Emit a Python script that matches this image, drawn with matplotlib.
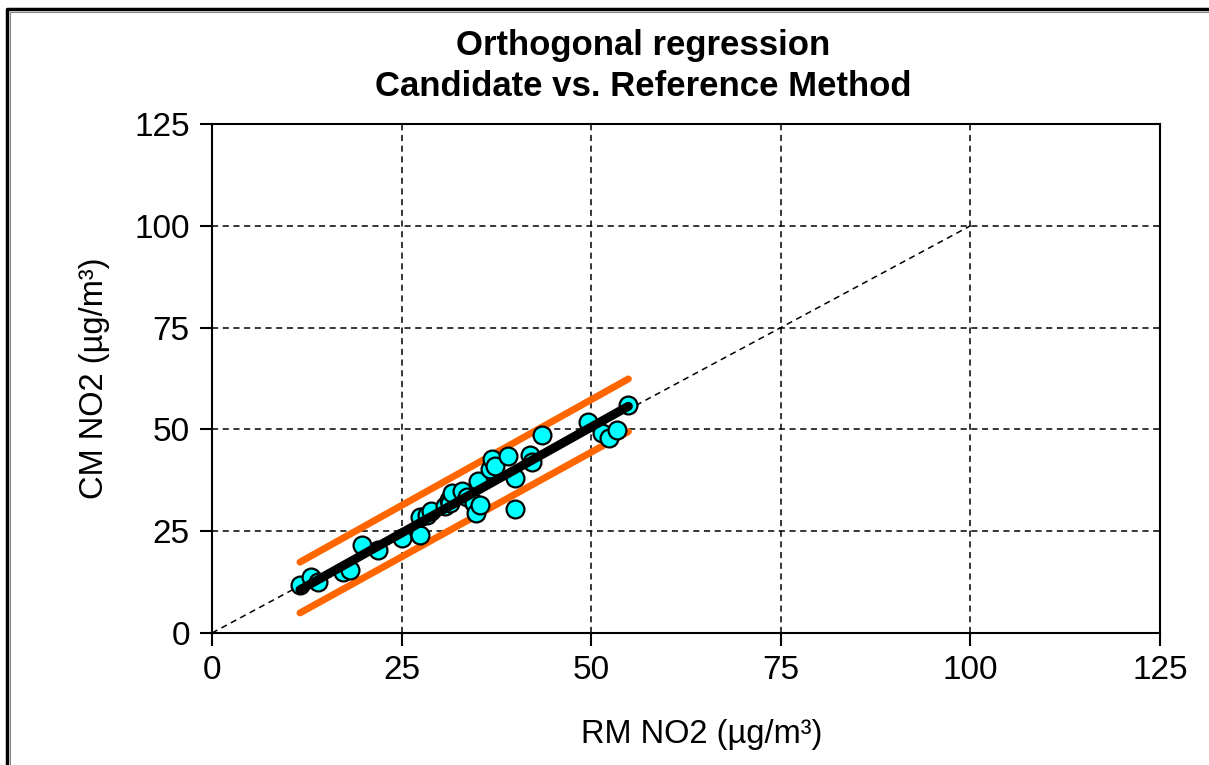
import numpy as np
import matplotlib.pyplot as plt
from matplotlib.lines import Line2D

plt.rcParams["font.family"] = ["Liberation Sans", "DejaVu Sans"]

# Paired NO2 measurements (µg/m³): reference method vs candidate method
rm_no2 = [11.6, 13.0, 14.0, 17.3, 18.2, 19.8, 21.9, 25.0, 27.4, 27.4,
          28.3, 28.9, 30.7, 31.3, 31.4, 31.6, 33.0, 33.6, 34.5, 34.8,
          35.4, 35.1, 36.6, 36.9, 37.3, 39.0, 39.9, 39.9, 41.9, 42.2,
          43.5, 49.6, 51.4, 52.3, 53.4, 54.9]
cm_no2 = [11.8, 13.7, 12.5, 15.0, 15.5, 21.6, 20.4, 23.3, 24.1, 28.5,
          29.0, 30.0, 31.2, 32.7, 31.9, 34.4, 34.9, 33.4, 32.0, 29.5,
          31.4, 37.3, 40.3, 42.7, 41.0, 43.5, 38.1, 30.5, 43.7, 42.0,
          48.6, 51.8, 49.1, 48.0, 49.9, 56.0]

# Upper / lower band lines (intercept, slope)
band_upper = (5.35, 1.039)
band_lower = (-7.0, 1.028)

ticks = [0, 25, 50, 75, 100, 125]

x = np.array(rm_no2)
y = np.array(cm_no2)

# orthogonal (Deming, lambda = 1) regression
sxx = np.var(x)
syy = np.var(y)
sxy = np.mean((x - x.mean()) * (y - y.mean()))
slope = (syy - sxx + np.sqrt((syy - sxx) ** 2 + 4 * sxy ** 2)) / (2 * sxy)
intercept = y.mean() - slope * x.mean()
xr = np.array([x.min(), x.max()])

fig = plt.figure(figsize=(12.09, 7.65), dpi=100)
ax = fig.add_axes([212 / 1209, 1 - 633 / 765, 948 / 1209, 509 / 765])

ax.set_xlim(0, 125)
ax.set_ylim(0, 125)
ax.set_xticks(ticks)
ax.set_yticks(ticks)
ax.grid(True, color="black", linestyle=(0, (4, 3)), linewidth=1.1)
ax.tick_params(direction="out", length=9, width=1.5, labelsize=24, pad=7,
               colors="black")
for sp in ax.spines.values():
    sp.set_linewidth(1.5)

# 1:1 line
ax.plot([0, 100], [0, 100], color="black", linestyle=(0, (4, 3)),
        linewidth=1.1, zorder=2)

ax.plot(xr, band_upper[0] + band_upper[1] * xr, color="#FF6600",
        linewidth=5, solid_capstyle="round", zorder=3)
ax.plot(xr, band_lower[0] + band_lower[1] * xr, color="#FF6600",
        linewidth=5, solid_capstyle="round", zorder=3)
ax.scatter(x, y, s=165, facecolor="#00FFFF", edgecolor="black",
           linewidth=1.6, zorder=4)
ax.plot(xr, intercept + slope * xr, color="black", linewidth=6.5,
        solid_capstyle="round", zorder=5)

fig.text(643 / 1209, 1 - 46 / 765, "Orthogonal regression", ha="center",
         va="center", fontsize=25, fontweight="bold")
fig.text(643 / 1209, 1 - 86 / 765, "Candidate vs. Reference Method",
         ha="center", va="center", fontsize=25, fontweight="bold")
fig.text(702 / 1209, 1 - 735 / 765, "RM NO2 (µg/m³)", ha="center",
         va="center", fontsize=23.5)
fig.text(95 / 1209, 1 - 378 / 765, "CM NO2 (µg/m³)", ha="center",
         va="center", fontsize=23.5, rotation=90)

# double frame along the top and left edges
x0, y0 = 6.5 / 1209, 1 - 8.5 / 765
x1, y1 = 9.5 / 1209, 1 - 11.5 / 765
fig.lines.append(Line2D([x0, x0, 1], [0, y0, y0], transform=fig.transFigure,
                        color="black", linewidth=2.5))
fig.lines.append(Line2D([x1, x1, 1], [0, y1, y1], transform=fig.transFigure,
                        color="#888888", linewidth=0.8))

fig.savefig("out.png", dpi=100)
